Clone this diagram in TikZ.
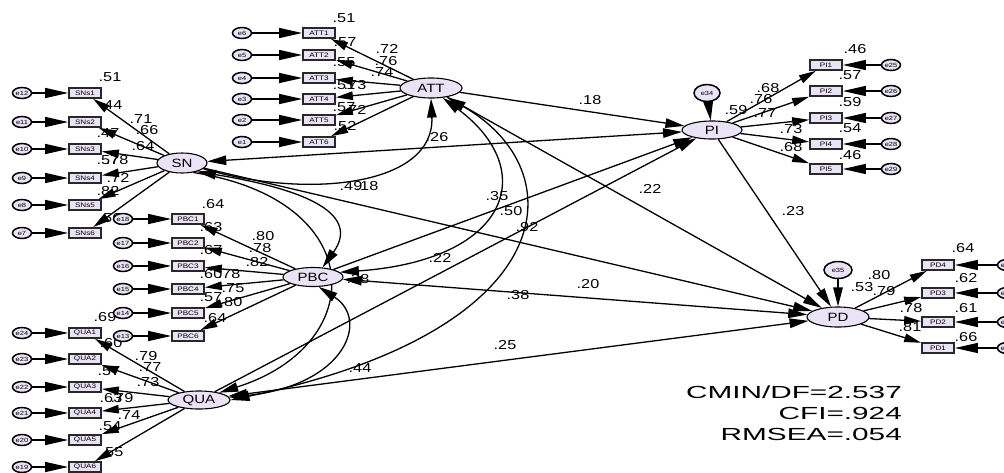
\documentclass[tikz,border=0pt]{standalone}
\usepackage{fontspec}
\setmainfont{Liberation Sans}[FakeStretch=1.25]
\newfontfamily\fitfont{Liberation Sans}[FakeStretch=1.7]
\usetikzlibrary{shapes.geometric,arrows.meta}
\definecolor{lf}{RGB}{234,226,245}
\definecolor{bd}{RGB}{40,40,40}
\pgfdeclarelayer{bg}
\pgfsetlayers{bg,main}
\begin{document}
\begin{tikzpicture}[x=1pt,y=-1pt,
  lat/.style={ellipse,draw=black,line width=1.1pt,fill=lf,minimum width=62pt,minimum height=20pt,inner sep=0pt,font=\fontsize{12}{12}\selectfont},
  obs/.style={rectangle,draw=bd,line width=1.7pt,fill=lf,minimum width=32pt,minimum height=10pt,inner sep=0pt,font=\fontsize{6.5}{6.5}\selectfont},
  err/.style={ellipse,draw=black,line width=1.5pt,fill=lf,minimum width=19pt,minimum height=11pt,inner sep=0pt,font=\fontsize{6}{6}\selectfont},
  lab/.style={inner sep=0pt,font=\fontsize{13}{13}\selectfont},
  fit/.style={inner sep=0pt,anchor=east,font=\fitfont\fontsize{17.5}{17.5}\selectfont},
  ld/.style={line width=1.3pt,-{Triangle[length=17pt,width=8.5pt]}},
  earr/.style={line width=1.3pt,-{Triangle[length=23pt,width=10pt]}},
  sp/.style={line width=1.3pt,-{Triangle[length=19pt,width=9.5pt]}},
  dsp/.style={line width=1.3pt,{Triangle[length=19pt,width=9.5pt]}-{Triangle[length=19pt,width=9.5pt]}}]
\useasboundingbox (0,0) rectangle (1004,472);

% latent variables
\node[lat] (ATT) at (431,88) {ATT};
\node[lat,minimum width=50pt] (SN) at (182,163) {SN};
\node[lat,minimum width=60pt,minimum height=19pt] (PBC) at (313,277) {PBC};
\node[lat,minimum height=18pt] (QUA) at (199,400) {QUA};
\node[lat,minimum width=60pt,minimum height=18pt] (PI) at (712,130) {PI};
\node[lat] (PD) at (838,317) {PD};
\node[err,minimum width=26pt,minimum height=17pt] (e34) at (707,93) {e34};
\node[err,minimum width=28pt,minimum height=17pt] (e35) at (838,270) {e35};

% labels (behind lines)
\begin{pgfonlayer}{bg}
\foreach \t/\x/\y [count=\n] in {
 .51/344/18, .57/345/42, .72/387/49, .76/386/61, .55/344/62, .74/382/72,
 .51/344/85, .73/355/85, .57/344/107, .72/355/110, .52/345/126,
 .51/110/77, .44/111/105, .71/141/119, .66/147/130, .47/108/133, .64/143/146,
 .57/108/160, .78/117/160, .72/118/178, .82/108/191, .56/110/218,
 .64/213/204, .63/211/227, .80/263/236, .78/260/248, .67/211/250, .82/257/262,
 .60/211/274, .78/229/274, .75/233/288, .57/211/297, .80/231/302, .64/215/318,
 .69/105/317, .60/111/343, .79/146/356, .77/150/367, .57/109/371, .73/148/382,
 .63/111/398, .79/122/398, .74/129/415, .54/110/426, .55/112/452,
 .46/855/49, .57/850/75, .59/850/102, .54/850/128, .46/850/155,
 .68/768/88, .76/761/99, .59/736/110, .77/765/113, .73/791/129, .68/791/147,
 .64/963/248, .62/966/278, .61/966/308, .66/966/337,
 .80/879/275, .53/862/287, .79/884/291, .78/911/308, .81/910/327,
 .18/590/100, .26/437/137, .49/351/186, .18/367/186, .35/497/196, .50/511/211,
 .92/527/227, .22/650/189, .22/440/258, .38/358/279, .20/588/284, .38/518/295,
 .25/505/345, .44/360/368, .23/793/211}
 {\node[lab] (lab\n) at (\x,\y) {\t};}
\end{pgfonlayer}

% indicators
\foreach \i/\y/\e in {1/33/6,2/55/5,3/78/4,4/99/3,5/120/2,6/142/1}{
  \node[obs] (ATT\i) at (319,\y) {ATT\i};
  \node[err] (e\e) at (242,\y) {e\e};
  \begin{pgfonlayer}{bg}
  \draw[earr] (e\e) -- (ATT\i);
  \draw[ld] (ATT) -- (ATT\i);
  \end{pgfonlayer}}
\foreach \i/\y/\e in {1/93/12,2/122/11,3/149/10,4/178/9,5/205/8,6/233/7}{
  \node[obs] (SNs\i) at (85,\y) {SNs\i};
  \node[err] (e\e) at (22,\y) {e\e};
  \begin{pgfonlayer}{bg}
  \draw[earr] (e\e) -- (SNs\i);
  \draw[ld] (SN) -- (SNs\i);
  \end{pgfonlayer}}
\foreach \i/\y/\e in {1/219/18,2/243/17,3/266/16,4/289/15,5/313/14,6/336/13}{
  \node[obs] (PBC\i) at (188,\y) {PBC\i};
  \node[err] (e\e) at (123,\y) {e\e};
  \begin{pgfonlayer}{bg}
  \draw[earr] (e\e) -- (PBC\i);
  \draw[ld] (PBC) -- (PBC\i);
  \end{pgfonlayer}}
\foreach \i/\y/\e in {1/333/24,2/359/23,3/387/22,4/413/21,5/440/20,6/467/19}{
  \node[obs] (QUA\i) at (85,\y) {QUA\i};
  \node[err] (e\e) at (22,\y) {e\e};
  \begin{pgfonlayer}{bg}
  \draw[earr] (e\e) -- (QUA\i);
  \draw[ld] (QUA) -- (QUA\i);
  \end{pgfonlayer}}
\foreach \i/\y/\e in {1/65/25,2/91/26,3/118/27,4/144/28,5/169/29}{
  \node[obs] (PI\i) at (826,\y) {PI\i};
  \node[err] (e\e) at (891,\y) {e\e};
  \begin{pgfonlayer}{bg}
  \draw[earr] (e\e) -- (PI\i);
  \draw[ld] (PI) -- (PI\i);
  \end{pgfonlayer}}
\foreach \i/\y/\e in {4/265/33,3/293/32,2/322/31,1/348/30}{
  \node[obs] (PD\i) at (938,\y) {PD\i};
  \node[err] (e\e) at (1007,\y) {e\e};
  \begin{pgfonlayer}{bg}
  \draw[earr] (e\e) -- (PD\i);
  \draw[ld] (PD) -- (PD\i);
  \end{pgfonlayer}}

\begin{pgfonlayer}{bg}
% residuals
\draw[sp] (e34) -- (PI);
\draw[sp] (e35) -- (PD);
% structural paths
\draw[sp] (ATT) -- (PI);
\draw[sp] (ATT) -- (PD);
\draw[dsp] (SN) -- (PI);
\draw[sp] (SN) -- (PD);
\draw[sp] (PBC) -- (PI);
\draw[dsp] (PBC) -- (PD);
\draw[sp] (QUA) -- (PI);
\draw[dsp] (QUA) -- (PD);
\draw[sp] (PI) -- (PD);
% covariances
\draw[sp] (SN.-15) .. controls (310,200) and (435,185) .. (ATT.south);
\draw[dsp] (SN.-30) .. controls (310,190) and (360,215) .. (PBC.45);
\draw[sp] (SN.-40) .. controls (370,200) and (370,345) .. (QUA.20);
\draw[dsp] (PBC.-60) .. controls (370,320) and (345,385) .. (QUA.5);
\draw[dsp] (ATT.-40) .. controls (540,170) and (510,260) .. (PBC.10);
\draw[dsp] (ATT.-30) .. controls (575,170) and (565,330) .. (QUA.0);
\end{pgfonlayer}

% fit indices
\node[fit] (cmin) at (902,392) {CMIN/DF=2.537};
\node[fit] (cfi) at (902,413) {CFI=.924};
\node[fit] (rmsea) at (902,434) {RMSEA=.054};
\end{tikzpicture}
\end{document}
